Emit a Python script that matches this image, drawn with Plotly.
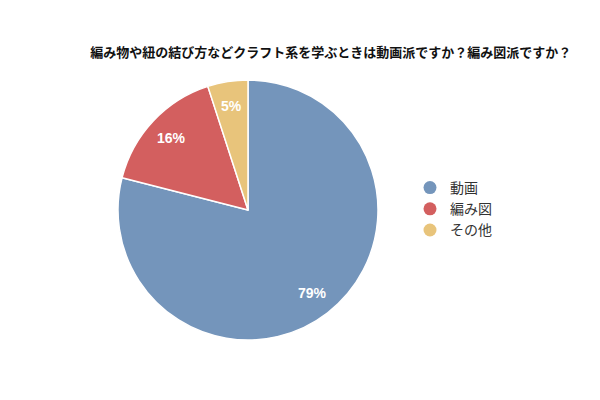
import math
import plotly.graph_objects as go

title = "編み物や紐の結び方などクラフト系を学ぶときは動画派ですか？編み図派ですか？"
labels = ["動画", "編み図", "その他"]
values = [79, 16, 5]
colors = ["#7495BB", "#D35F5F", "#E8C47B"]

W, H = 600, 400
cx, cy, R = 240, 202, 130  # pie centre (figure px, page adds 8px body margin) and radius

fig = go.Figure()

fig.add_trace(go.Pie(
    labels=labels,
    values=values,
    sort=False,
    direction="clockwise",
    rotation=0,
    marker=dict(colors=colors, line=dict(color="#FFFFFF", width=1.5)),
    textinfo="none",
    showlegend=False,
    domain=dict(x=[(cx - R) / W, (cx + R) / W], y=[1 - (cy + R) / H, 1 - (cy - R) / H]),
))

# percent labels placed at 0.8 radius along each slice's mid-angle
total = sum(values)
acc = 0
for v in values:
    mid = (acc + v / 2) / total * 2 * math.pi
    acc += v
    px = cx + 0.81 * R * math.sin(mid)
    py = cy - 0.81 * R * math.cos(mid)
    fig.add_annotation(
        x=px / W, y=1 - py / H, xref="paper", yref="paper",
        xanchor="center", yanchor="middle",
        text="<b>%d%%</b>" % round(v / total * 100),
        showarrow=False,
        font=dict(color="#FFFFFF", size=14, family="Liberation Sans, Arial, sans-serif"),
    )

# circle markers for the legend
for name, c in zip(labels, colors):
    fig.add_trace(go.Scatter(
        x=[None], y=[None], mode="markers", name=name,
        marker=dict(color=c, size=13, symbol="circle"),
    ))

fig.update_layout(
    width=W,
    height=H,
    margin=dict(l=0, r=0, t=0, b=0),
    paper_bgcolor="#FFFFFF",
    plot_bgcolor="#FFFFFF",
    title=dict(
        text="<b>" + title + "</b>",
        font=dict(size=13, color="#111111", family="Noto Sans CJK JP"),
        x=0.538,
        xanchor="center",
        y=1 - 44 / H,
        yanchor="middle",
    ),
    xaxis=dict(visible=False),
    yaxis=dict(visible=False),
    legend=dict(
        x=402 / W,
        y=1 - 164 / H,
        xanchor="left",
        yanchor="top",
        font=dict(size=14, color="#333333", family="Noto Sans CJK JP"),
        itemwidth=30,
        tracegroupgap=0,
        bgcolor="rgba(0,0,0,0)",
    ),
)

fig.write_html("out.html")
